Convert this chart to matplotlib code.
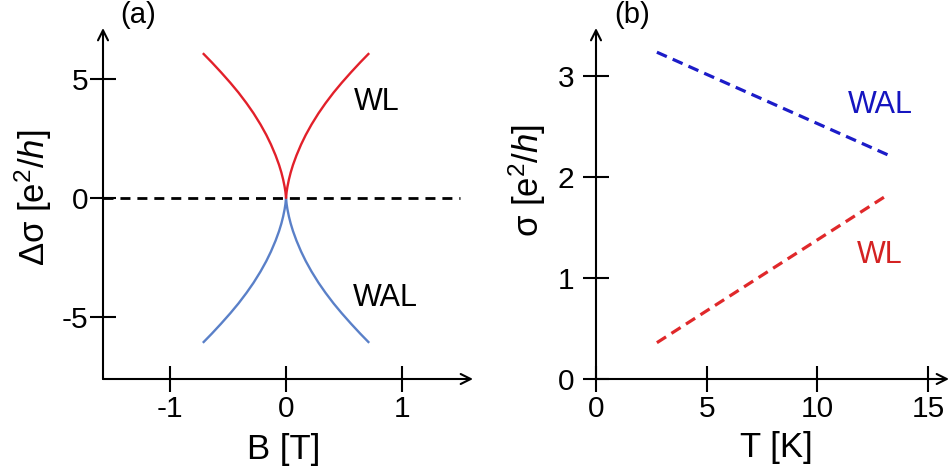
import matplotlib

matplotlib.use("Agg")
import matplotlib.pyplot as plt

plt.rcParams["font.family"] = ["Liberation Sans", "DejaVu Sans"]
plt.rcParams["mathtext.fontset"] = "custom"
plt.rcParams["mathtext.rm"] = "Liberation Sans"
plt.rcParams["mathtext.it"] = "Liberation Sans:italic"
plt.rcParams["axes.unicode_minus"] = False

# panel (a): magnetoconductance vs field
field = [-0.71, -0.64, -0.56, -0.48, -0.41, -0.34, -0.28, -0.22, -0.17, -0.13,
         -0.09, -0.06, -0.04, -0.025, -0.012, -0.005, 0.0, 0.005, 0.012,
         0.025, 0.04, 0.06, 0.09, 0.13, 0.17, 0.22, 0.28, 0.34, 0.41, 0.48,
         0.56, 0.64, 0.71]
wl_dsigma = [6.05, 5.70, 5.28, 4.84, 4.43, 3.98, 3.56, 3.09, 2.65, 2.25,
             1.79, 1.39, 1.07, 0.78, 0.47, 0.25, 0.0, 0.25, 0.47,
             0.78, 1.07, 1.39, 1.79, 2.25, 2.65, 3.09, 3.56, 3.98, 4.43, 4.84,
             5.28, 5.70, 6.05]
wal_dsigma = [-6.05, -5.70, -5.28, -4.84, -4.43, -3.98, -3.56, -3.09, -2.65,
              -2.25, -1.79, -1.39, -1.07, -0.78, -0.47, -0.25, 0.0, -0.25,
              -0.47, -0.78, -1.07, -1.39, -1.79, -2.25, -2.65, -3.09, -3.56,
              -3.98, -4.43, -4.84, -5.28, -5.70, -6.05]
field_ticks = [-1, 0, 1]
dsigma_ticks = [-5, 0, 5]

# panel (b): conductance vs temperature
temp = [2.75, 13.2]
sigma_wal = [3.24, 2.22]
sigma_wl = [0.36, 1.83]
temp_ticks = [0, 5, 10, 15]
sigma_ticks = [0, 1, 2, 3]

W, H = 951, 472
TICK_FS = 21.5
LABEL_FS = 25
NOTE_FS = 22
AXIS_LW = 1.5


def px_axes(fig, left, bottom, right, top):
    return fig.add_axes([left / W, 1 - bottom / H, (right - left) / W, (bottom - top) / H])


def style_axes(ax, ypad):
    for s in ax.spines.values():
        s.set_visible(False)
    arrow = dict(arrowstyle="->", lw=AXIS_LW, color="black",
                 shrinkA=0, shrinkB=0, mutation_scale=18)
    ax.annotate("", xy=(1, 0), xytext=(0, 0), xycoords="axes fraction",
                arrowprops=arrow, annotation_clip=False)
    ax.annotate("", xy=(0, 1), xytext=(0, 0), xycoords="axes fraction",
                arrowprops=arrow, annotation_clip=False)
    ax.tick_params(direction="inout", length=19, width=AXIS_LW,
                   labelsize=TICK_FS, color="black")
    ax.tick_params(axis="x", pad=2)
    ax.tick_params(axis="y", pad=ypad)


fig = plt.figure(figsize=(W / 100, H / 100), dpi=100)

# ---- (a)
ax = px_axes(fig, 103, 379, 473, 28)
ax.set_xlim(-1.578, 1.612)
ax.set_ylim(-7.605, 7.143)
style_axes(ax, ypad=1)
ax.set_xticks(field_ticks)
ax.set_yticks(dsigma_ticks)
ax.plot([-1.578, 1.50], [0, 0], color="black", lw=2.0, dashes=(3.6, 2.5))
ax.plot(field, wal_dsigma, color="#5a80c8", lw=1.7)
ax.plot(field, wl_dsigma, color="#e2202a", lw=1.7)
ax.text(0.784, 4.03, "WL", fontsize=NOTE_FS, ha="center", va="center")
ax.text(0.853, -4.20, "WAL", fontsize=NOTE_FS, ha="center", va="center")
ax.set_xlabel("B [T]", fontsize=LABEL_FS, va="center")
ax.xaxis.set_label_coords(0.489, -0.202)
ax.set_ylabel(r"Δσ [e$^2$/$h$]", fontsize=LABEL_FS, va="center", ha="center")
ax.yaxis.set_label_coords(-0.189, 0.516)

# ---- (b)
bx = px_axes(fig, 596, 379, 949, 28)
bx.set_xlim(0, 15.94)
bx.set_ylim(0, 3.48)
style_axes(bx, ypad=6)
bx.set_xticks(temp_ticks)
bx.set_yticks(sigma_ticks)
bx.plot(temp, sigma_wal, color="#1c1cc8", lw=2.3, dashes=(3.4, 2.0))
bx.plot(temp, sigma_wl, color="#e0282a", lw=2.3, dashes=(3.4, 2.0))
bx.text(12.82, 2.72, "WAL", fontsize=NOTE_FS, color="#1515c0", ha="center", va="center")
bx.text(12.82, 1.23, "WL", fontsize=NOTE_FS, color="#d42222", ha="center", va="center")
bx.set_xlabel("T [K]", fontsize=LABEL_FS, va="center")
bx.xaxis.set_label_coords(0.511, -0.194)
bx.set_ylabel(r"σ [e$^2$/$h$]", fontsize=LABEL_FS, va="center", ha="center")
bx.yaxis.set_label_coords(-0.195, 0.567)

fig.text(138 / W, 1 - 15 / H, "(a)", fontsize=21, ha="center", va="center")
fig.text(632 / W, 1 - 15 / H, "(b)", fontsize=21, ha="center", va="center")

fig.savefig("out.png", dpi=100)
plt.close("all")
